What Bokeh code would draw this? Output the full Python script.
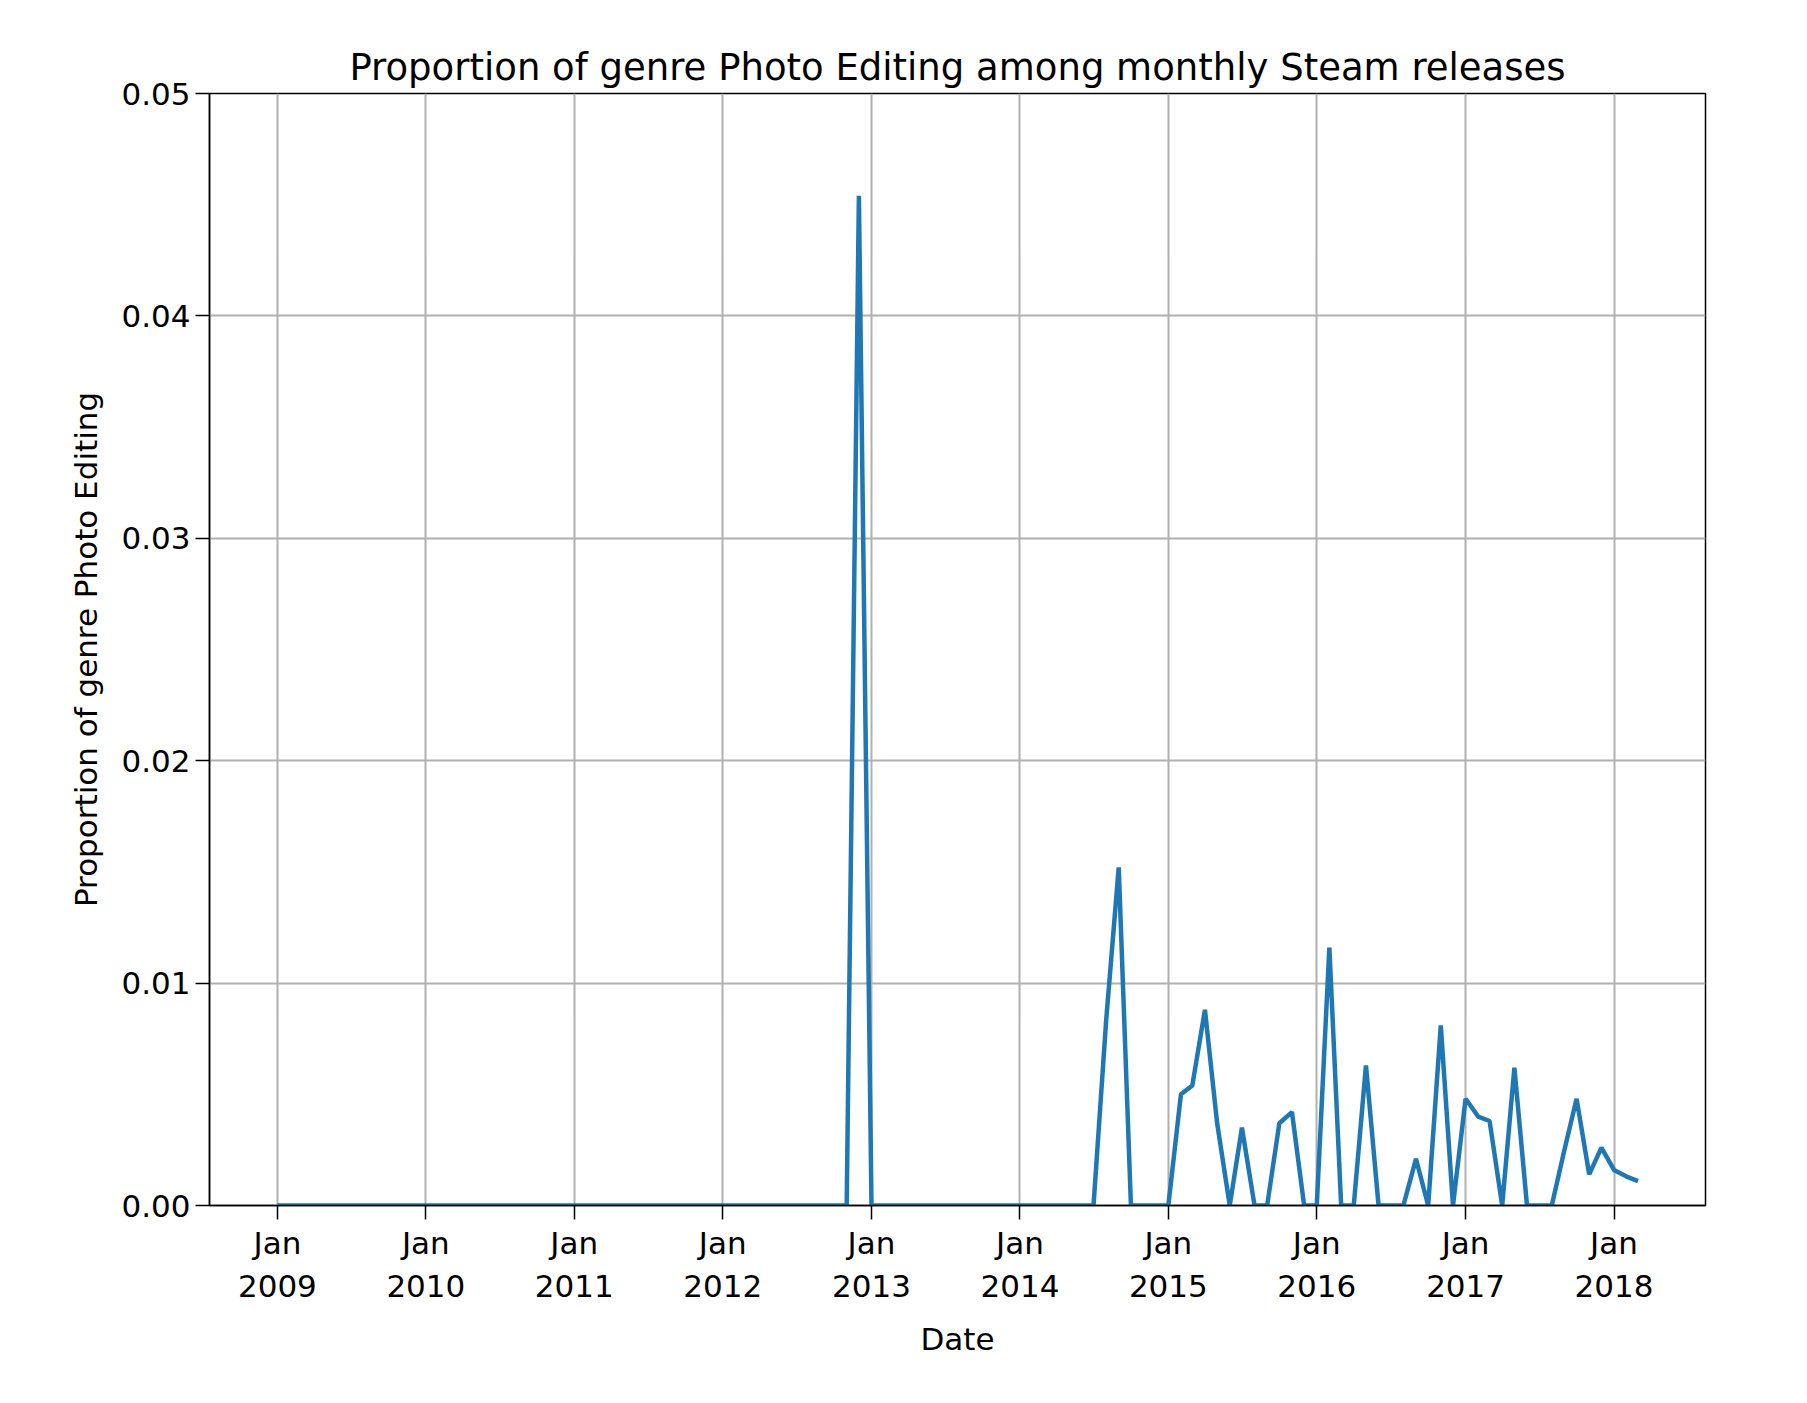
from datetime import datetime

import pandas as pd

from bokeh.plotting import figure
from bokeh.embed import file_html
from bokeh.resources import INLINE
from bokeh.models import FixedTicker, DatetimeTickFormatter, Range1d, NumeralTickFormatter

# monthly proportions, Jan 2009 .. Mar 2018
start = '2009-01-01'
n_zero_before_2012_spike = 47  # Jan 2009 .. Nov 2012
spike_2012 = [0.0454]          # Dec 2012
zeros_2013_2014 = 19           # Jan 2013 .. Jul 2014
tail = [0.0083, 0.0152, 0.0, 0.0, 0.0, 0.0,            # Aug 2014 .. Jan 2015
        0.0050, 0.0054, 0.0088, 0.0037, 0.0, 0.0035,    # Feb .. Jul 2015
        0.0, 0.0, 0.0037, 0.0042, 0.0,                  # Aug .. Dec 2015
        0.0, 0.0116, 0.0, 0.0, 0.0063, 0.0, 0.0, 0.0,   # Jan .. Aug 2016
        0.0021, 0.0, 0.0081, 0.0,                       # Sep .. Dec 2016
        0.0048, 0.0040, 0.0038, 0.0, 0.0062, 0.0, 0.0,  # Jan .. Jul 2017
        0.0, 0.0025, 0.0048, 0.0014, 0.0026,            # Aug .. Dec 2017
        0.0016, 0.0013, 0.0011]                         # Jan .. Mar 2018
values = [0.0] * n_zero_before_2012_spike + spike_2012 + [0.0] * zeros_2013_2014 + tail
dates = pd.date_range(start, periods=len(values), freq='MS')

tick_years = list(range(2009, 2019))
tick_ms = [datetime(y, 1, 1).timestamp() * 1000 for y in tick_years]

font = 'DejaVu Sans'
p = figure(width=1790, height=1395, x_axis_type='datetime',
           output_backend='svg', toolbar_location=None,
           x_range=Range1d(datetime(2008, 7, 18), datetime(2018, 8, 14)),
           y_range=Range1d(0, 0.05),
           min_border_left=209, min_border_right=85, min_border_top=93, min_border_bottom=190)
p.title.text = 'Proportion of genre Photo Editing among monthly Steam releases'
p.title.text_font = font
p.title.text_font_size = '37px'
p.title.text_font_style = 'normal'
p.title.text_color = 'black'
p.title.align = 'center'
p.title.standoff = 10

p.line(dates, values, line_color='#1f77b4', line_width=4.5)

p.xaxis.ticker = FixedTicker(ticks=tick_ms)
p.xaxis.formatter = DatetimeTickFormatter(years='%b\n%Y', months='%b\n%Y', days='%b\n%Y')
p.yaxis.ticker = FixedTicker(ticks=[0, 0.01, 0.02, 0.03, 0.04, 0.05])
p.yaxis.formatter = NumeralTickFormatter(format='0.00')
p.xaxis.axis_label = 'Date'
p.yaxis.axis_label = 'Proportion of genre Photo Editing'
for ax in (p.xaxis, p.yaxis):
    ax.axis_label_text_font = font
    ax.axis_label_text_font_size = '31px'
    ax.axis_label_text_font_style = 'normal'
    ax.axis_label_text_color = 'black'
    ax.major_label_text_font = font
    ax.major_label_text_font_size = '31px'
    ax.major_label_text_color = 'black'
    ax.axis_line_color = 'black'
    ax.major_tick_line_color = 'black'
    ax.major_tick_out = 14
    ax.major_tick_in = 0
    ax.minor_tick_line_color = None
    ax.axis_line_width = 1.5
    ax.major_tick_line_width = 1.5
p.xaxis.axis_label_standoff = 14
p.yaxis.axis_label_standoff = 14
p.grid.grid_line_color = '#b0b0b0'
p.grid.grid_line_width = 2
p.outline_line_color = 'black'
p.outline_line_width = 1.5

open('out.html', 'w').write(file_html(p, INLINE))
